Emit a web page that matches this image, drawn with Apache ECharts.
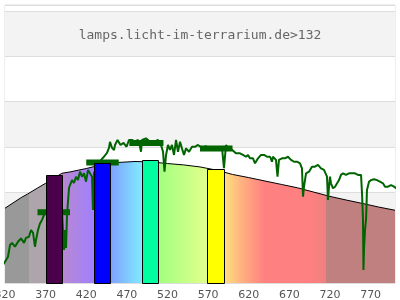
<!DOCTYPE html>
<html>
<head>
<meta charset="utf-8">
<script src="https://cdn.jsdelivr.net/npm/echarts/dist/echarts.min.js"></script>
<style>html,body{margin:0;padding:0;background:#fff}#c{width:400px;height:300px}</style>
</head>
<body>
<div id="c"></div>
<script>
// Black-body reference curve
var bodyWl  = [320, 340, 348, 360, 370, 380, 390, 400, 420, 440, 460, 480, 500, 520, 540, 560, 580, 600, 620, 640, 660, 680, 700, 720, 740, 760, 780, 800];
var bodyVal = [33.0, 37.7, 39.3, 41.9, 44.0, 46.2, 48.4, 49.0, 50.5, 52.3, 53.2, 53.6, 53.4, 52.7, 52.1, 51.2, 49.8, 47.9, 46.5, 45.0, 43.5, 42.0, 40.1, 38.2, 36.6, 35.1, 33.5, 32.1];

// Measured spectrum
var specWl = [313.8,316.3,320.0,323.7,326.2,328.6,332.3,336.0,339.7,343.4,345.8,349.5,352.0,354.5,356.9,358.2,360.6,363.1,365.5,368.0,375.0,383.0,390.0,391.4,392.6,393.8,395.1,396.3,398.8,400.0,402.5,404.9,407.4,409.8,412.3,414.8,417.2,419.7,422.2,424.6,427.1,428.3,429.5,434.5,438.2,441.8,445.5,448.0,449.2,451.7,454.2,455.4,458.5,462.2,465.9,469.6,472.6,476.3,480.0,483.7,486.2,487.4,488.6,493.5,498.5,503.4,508.3,512.0,514.5,516.3,518.2,520.6,523.1,525.5,528.0,530.5,532.9,535.4,537.8,540.3,542.8,546.5,550.2,553.8,557.5,562.5,567.4,572.3,577.2,582.2,587.1,589.5,592.0,594.5,599.4,604.2,609.2,612.9,616.6,619.1,621.5,625.2,627.7,631.4,635.1,638.8,642.5,646.2,648.6,649.8,653.5,655.4,657.2,660.9,664.6,668.3,672.0,675.7,679.4,683.1,685.5,686.8,688.0,690.5,694.2,697.8,701.5,705.2,708.9,712.6,716.3,717.5,718.8,720.0,721.2,723.7,726.2,728.6,731.1,733.5,736.0,739.7,743.4,747.1,750.8,754.5,758.2,759.4,760.6,761.2,761.8,763.1,764.3,764.9,765.5,768.0,770.5,774.2,777.8,781.5,785.2,787.7,791.4,795.1,798.8,801.2,803.7,806.2];
var specVal = [4.3,7.2,9.4,11.6,16.8,17.7,16.0,18.2,19.7,17.7,19.9,20.4,23.4,22.1,16.0,19.0,23.4,26.3,27.8,30.0,32.0,34.0,33.0,32.2,14.6,23.4,15.4,30.0,41.9,43.2,45.4,44.1,46.9,45.4,49.1,46.9,48.4,44.7,49.9,49.1,46.9,32.2,48.5,52.1,54.3,55.7,57.4,59.6,62.3,59.6,58.7,60.9,63.1,60.9,61.8,60.1,63.1,63.1,62.3,63.1,60.1,57.9,63.1,63.8,62.3,62.3,63.1,60.9,57.9,49.1,56.5,60.9,58.7,60.9,56.5,63.1,57.9,62.3,59.4,56.5,59.4,57.9,60.1,60.1,60.9,59.6,60.4,58.7,60.0,58.7,59.6,50.7,60.9,59.6,58.8,57.2,57.2,56.5,55.7,56.5,55.0,55.0,52.8,55.0,56.5,56.5,55.7,55.7,53.5,55.7,54.3,46.9,54.3,55.0,55.0,55.7,54.3,53.5,53.5,52.8,50.6,38.1,42.5,48.4,49.1,51.3,51.3,52.1,50.6,49.9,46.9,36.6,42.5,46.9,44.0,41.8,42.5,43.2,45.4,47.7,48.4,47.7,48.4,48.4,48.4,47.7,47.7,39.6,27.8,5.7,14.6,23.4,27.8,33.7,41.0,44.7,45.4,45.8,45.4,44.7,44.0,42.5,42.5,43.2,42.5,42.5,41.3,41.0];

// Colour bars (wavelength range and height)
var barStart = [370, 430, 488, 569];
var barEnd   = [390, 450, 508, 590];
var barVal   = [47.6, 53.1, 54.1, 50.2];
var barColors = ['#4b004b', '#0000ff', '#00ffa0', '#ffff00'];

// Averaged measured level per band
var segStart = [360, 420, 473, 560];
var segEnd   = [400, 460, 515, 600];
var segVal   = [31.2, 53.2, 61.8, 59.3];

var xTicksMin = 320, xTicksMax = 800, xStep = 50;

var bodyData = bodyWl.map(function(w, i){ return [w, bodyVal[i]]; });
var specData = specWl.map(function(w, i){ return [w, specVal[i]]; });
var barData = barStart.map(function(s, i){ return [s, barEnd[i], barVal[i]]; });
var segData = segStart.map(function(s, i){ return [s, segEnd[i], segVal[i]]; });

function off(nm){ return (nm - xTicksMin) / (xTicksMax - xTicksMin); }
var gradStops = [
  [320,'#999999'],[350,'#999999'],[350,'#ada5ab'],[370,'#ada5ab'],
  [370,'#b88ad0'],[390,'#b888d0'],[430,'#a080ff'],
  [430,'#809cff'],[450,'#80a0ff'],[487,'#80e8ff'],
  [487,'#80ffb0'],[507,'#a0ff80'],[569,'#e2ff8c'],
  [569,'#fff080'],[590,'#ffe080'],[612,'#ffb080'],[640,'#ff8080'],[695,'#ff8080'],[715,'#f08080'],
  [715,'#c08080'],[800,'#c08080']
].map(function(s){ return {offset: off(s[0]), color: s[1]}; });

var chart = echarts.init(document.getElementById('c'), null, {renderer: 'canvas'});
chart.setOption({
  animation: false,
  title: {
    text: 'lamps.licht-im-terrarium.de>132',
    left: 'center', top: 24,
    textStyle: {fontFamily: 'DejaVu Sans Mono', fontSize: 13, fontWeight: 'normal', color: '#666'}
  },
  grid: {left: 5, right: 5, top: 5, bottom: 17, containLabel: false, outerBoundsMode: 'none',
    show: true, borderColor: '#ddd', borderWidth: 1, backgroundColor: 'transparent'},
  xAxis: {
    type: 'value', min: xTicksMin, max: xTicksMax, interval: xStep,
    axisLine: {show: true, lineStyle: {color: '#ddd'}},
    axisTick: {show: false},
    splitLine: {show: false},
    axisLabel: {color: '#555', fontFamily: 'DejaVu Sans', fontSize: 11, margin: 7, showMaxLabel: false}
  },
  yAxis: {
    type: 'value', min: 0, max: 122.65, interval: 20,
    axisLine: {show: false}, axisTick: {show: false}, axisLabel: {show: false},
    splitLine: {show: true, lineStyle: {color: '#ddd'}},
    splitArea: {show: true, areaStyle: {color: ['#ffffff', '#f3f3f3']}}
  },
  series: [
    {
      type: 'line', data: bodyData, showSymbol: false, z: 2,
      lineStyle: {color: '#000', width: 1},
      areaStyle: {opacity: 1, color: new echarts.graphic.LinearGradient(0, 0, 1, 0, gradStops)}
    },
    {
      type: 'line', data: specData, showSymbol: false, clip: false, z: 3,
      lineStyle: {color: '#006400', width: 2}
    },
    {
      type: 'custom', data: segData, z: 4,
      encode: {x: [0, 1], y: 2},
      renderItem: function(params, api){
        var p0 = api.coord([api.value(0), api.value(2)]);
        var p1 = api.coord([api.value(1), api.value(2)]);
        return {type: 'line', shape: {x1: p0[0], y1: p0[1], x2: p1[0], y2: p1[1]}, style: {stroke: '#006400', lineWidth: 6}};
      }
    },
    {
      type: 'custom', data: barData, z: 5,
      encode: {x: [0, 1], y: 2},
      renderItem: function(params, api){
        var p0 = api.coord([api.value(0), api.value(2)]);
        var p1 = api.coord([api.value(1), 0]);
        return {type: 'rect', shape: {x: Math.round(p0[0]) + 0.5, y: Math.round(p0[1]) + 0.5, width: Math.round(p1[0] - p0[0]), height: Math.round(p1[1] - p0[1])},
          style: {fill: barColors[params.dataIndex], stroke: '#000', lineWidth: 1}};
      }
    }
  ]
});
</script>
</body>
</html>
